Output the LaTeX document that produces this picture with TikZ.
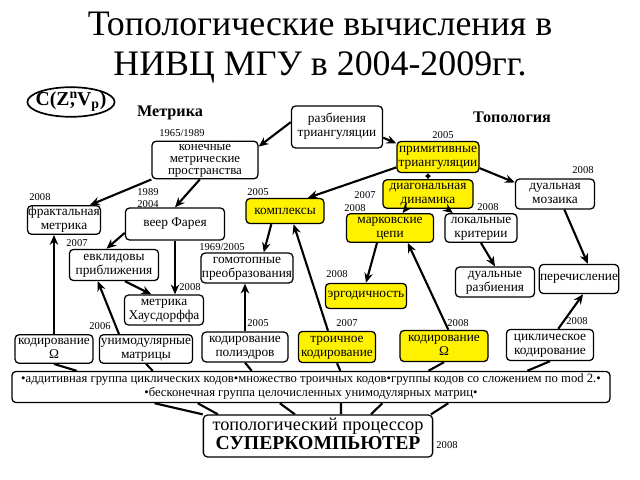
\documentclass[tikz,border=0pt]{standalone}
\usepackage{fontspec}
\setmainfont{Liberation Serif}
\usetikzlibrary{shapes.geometric, arrows.meta, calc}
\newcommand{\boxlines}[1]{\begin{tabular}{@{}c@{}}#1\end{tabular}}

\begin{document}
\begin{tikzpicture}[
    x=0.025cm, y=-0.025cm,
    topic/.style={rectangle, rounded corners=3pt, draw=black, line width=0.9pt, fill=white, inner sep=0.5pt, font=\fontsize{9.5}{9.7}\selectfont},
    hot/.style={topic, fill=yellow},
    year/.style={font=\fontsize{7.5}{8}\selectfont, inner sep=0pt},
    head/.style={font=\fontsize{11.5}{13}\selectfont\bfseries},
    flow/.style={-{Stealth[length=7pt, width=6pt]}, line width=1.5pt},
    link/.style={line width=1.5pt}
]
    \path[use as bounding box, fill=white] (0,0) rectangle (640,480);

    % Title
    \node[font=\fontsize{25.5}{28.5}\selectfont, align=center] (title) at (320,48) {Топологические вычисления в\\НИВЦ МГУ в 2004-2009гг.};
    \node[font=\fontsize{14}{16}\selectfont\bfseries, inner sep=0pt] (cz) at (71,102) {C(Z\rlap{\textsuperscript{n}}\kern0.5pt,\kern1.5pt V\textsubscript{p})};
    \draw[line width=1.2pt] (cz.center) ellipse [x radius=1.09cm, y radius=0.37cm];
    \node[head] (metr) at (170,113) {Метрика};
    \node[head] (topo) at (512,117) {Топология};

    % Top row
    \node[topic, minimum width=2.28cm, minimum height=1.05cm] (razb) at (337,127) {\boxlines{разбиения\\триангуляции}};
    \node[topic, minimum width=2.65cm, minimum height=0.9cm, font=\fontsize{9.2}{8.6}\selectfont] (konech) at (205,160) {\boxlines{конечные\\метрические\\пространства}};
    \node[hot, minimum width=2.05cm, minimum height=0.78cm] (primit) at (438,157) {\boxlines{примитивные\\триангуляции}};
    \node[hot, minimum width=2.25cm, minimum height=0.7cm] (diag) at (428,194) {\boxlines{диагональная\\динамика}};
    \node[topic, minimum width=1.98cm, minimum height=0.75cm] (mozaika) at (555,194) {\boxlines{дуальная\\мозаика}};
    \node[year] (y1) at (182,133) {1965/1989};
    \node[year] (y2) at (443,135) {2005};
    \node[year] (y3) at (583,170) {2008};

    % Middle rows
    \node[hot, minimum width=1.95cm, minimum height=0.63cm] (kompl) at (285,211) {комплексы};
    \node[topic, minimum width=2.48cm, minimum height=0.8cm] (veer) at (175,224) {веер Фарея};
    \node[topic, minimum width=1.8cm, minimum height=0.65cm] (fraktal) at (64,220) {\boxlines{фрактальная\\метрика}};
    \node[topic, minimum width=2.23cm, minimum height=0.78cm] (evklid) at (114,265) {\boxlines{евклидовы\\приближения}};
    \node[topic, minimum width=2.3cm, minimum height=0.75cm] (gomot) at (247,268) {\boxlines{гомотопные\\преобразования}};
    \node[topic, minimum width=1.98cm, minimum height=0.75cm] (hausd) at (164,310) {\boxlines{метрика\\Хаусдорффа}};
    \node[hot, minimum width=2.18cm, minimum height=0.68cm] (markov) at (390,228) {\boxlines{марковские\\цепи}};
    \node[topic, minimum width=1.8cm, minimum height=0.68cm] (lokal) at (481,228) {\boxlines{локальные\\критерии}};
    \node[hot, minimum width=2.03cm, minimum height=0.63cm] (ergod) at (366,296) {эргодичность};
    \node[topic, minimum width=1.98cm, minimum height=0.75cm] (dualraz) at (495,282) {\boxlines{дуальные\\разбиения}};
    \node[topic, minimum width=1.9cm, minimum height=0.73cm] (perech) at (579,279) {перечисление};
    \node[year] (y4) at (40,197) {2008};
    \node[year, align=left, font=\fontsize{7.5}{8.2}\selectfont] (y5) at (148,198) {1989\\2004};
    \node[year] (y6) at (258,192) {2005};
    \node[year] (y7) at (365,195) {2007};
    \node[year] (y8) at (355,208) {2008};
    \node[year] (y9) at (488,207) {2008};
    \node[year] (y10) at (77,243) {2007};
    \node[year] (y11) at (222,247) {1969/2005};
    \node[year] (y12) at (190,287) {2008};
    \node[year] (y13) at (337,274) {2008};

    % Bottom row
    \node[topic, minimum width=1.95cm, minimum height=0.68cm] (kodO) at (54,349) {\boxlines{кодирование\\Ω}};
    \node[topic, minimum width=2.33cm, minimum height=0.68cm] (unimod) at (146,349) {\boxlines{унимодулярные\\матрицы}};
    \node[topic, minimum width=2.15cm, minimum height=0.75cm] (poliedr) at (245,347) {\boxlines{кодирование\\полиэдров}};
    \node[hot, minimum width=1.93cm, minimum height=0.78cm] (troich) at (337,347) {\boxlines{троичное\\кодирование}};
    \node[hot, minimum width=2.2cm, minimum height=0.78cm] (kodOmega) at (444,346) {\boxlines{кодирование\\Ω}};
    \node[topic, minimum width=2.18cm, minimum height=0.78cm] (cikl) at (550,345) {\boxlines{циклическое\\кодирование}};
    \node[year] (y14) at (100,326) {2006};
    \node[year] (y15) at (258,323) {2005};
    \node[year] (y16) at (347,323) {2007};
    \node[year] (y17) at (458,323) {2008};
    \node[year] (y18) at (577,321) {2008};

    % Groups and processor
    \node[topic, minimum width=14.95cm, minimum height=0.78cm, font=\fontsize{9}{9.5}\selectfont] (grp) at (311,387) {\boxlines{•аддитивная группа циклических кодов•множество троичных кодов•группы кодов со сложением по mod 2.•\\•бесконечная группа целочисленных унимодулярных матриц•}};
    \node[topic, minimum width=5.73cm, minimum height=1.05cm, font=\fontsize{13}{13.5}\selectfont] (proc) at (318,436) {\boxlines{топологический процессор\\{\fontsize{14}{14}\selectfont\bfseries СУПЕРКОМПЬЮТЕР}}};
    \node[year] (y19) at (447,445) {2008};

    % Arrows
    \draw[flow] (razb.174) -- (konech.14);
    \draw[flow] (razb.-13) -- (primit.162);
    \draw[flow] (primit.194) -- (kompl.30);
    \draw[{Stealth[length=2.5pt, width=4pt]}-{Stealth[length=2.5pt, width=4pt]}, line width=1pt] (diag.north) -- (diag.north |- primit.south);
    \draw[flow] (primit.-15) -- (mozaika.164);
    \draw[flow] (konech.south west) -- (fraktal.30);
    \draw[flow] (konech.255) -- (veer.north);
    \draw[flow] (kodO.north) -- (kodO.north |- fraktal.south);
    \draw[flow] (veer.190) -- (evklid.115);
    \draw[flow] (veer.south) -- (veer.south |- hausd.north);
    \draw[flow] (evklid.304) -- (hausd.129);
    \draw[flow] (unimod.151) -- (evklid.225);
    \draw[flow] (kompl.224) -- (gomot.43);
    \draw[flow] (poliedr.north) -- (poliedr.north |- gomot.south);
    \draw[flow] (troich.119) -- (kompl.303);
    \draw[flow] (diag.214) -- (markov.50);
    \draw[flow] (diag.322) -- (lokal.152);
    \draw[flow] (markov.229) -- (ergod.north);
    \draw[flow] (kodOmega.75) -- (markov.320);
    \draw[flow] (lokal.south) -- (dualraz.north);
    \draw[flow] (mozaika.301) -- (perech.60);
    \draw[flow] (cikl.63) -- (perech.285);

    % Links to groups
    \draw[link] (kodO.south) -- ($(grp.north west)!0.109!(grp.north east)$);
    \draw[link] (unimod.south) -- ($(grp.north west)!0.236!(grp.north east)$);
    \draw[link] (poliedr.south) -- ($(grp.north west)!0.401!(grp.north east)$);
    \draw[link] (troich.south) -- ($(grp.north west)!0.549!(grp.north east)$);
    \draw[link] (kodOmega.south) -- ($(grp.north west)!0.696!(grp.north east)$);
    \draw[link] (cikl.south) -- ($(grp.north west)!0.861!(grp.north east)$);
    \draw[link] ($(grp.south west)!0.239!(grp.south east)$) -- (proc.north west);
    \draw[link] ($(grp.south west)!0.311!(grp.south east)$) -- ($(proc.north west)!0.066!(proc.north east)$);
    \draw[link] ($(grp.south west)!0.448!(grp.south east)$) -- ($(proc.north west)!0.4!(proc.north east)$);
    \draw[link] ($(grp.south west)!0.55!(grp.south east)$) -- ($(proc.north west)!0.6!(proc.north east)$);
    \draw[link] ($(grp.south west)!0.619!(grp.south east)$) -- ($(proc.north west)!0.73!(proc.north east)$);
    \draw[link] ($(grp.south west)!0.729!(grp.south east)$) -- ($(proc.north west)!0.99!(proc.north east)$);

\end{tikzpicture}
\end{document}
